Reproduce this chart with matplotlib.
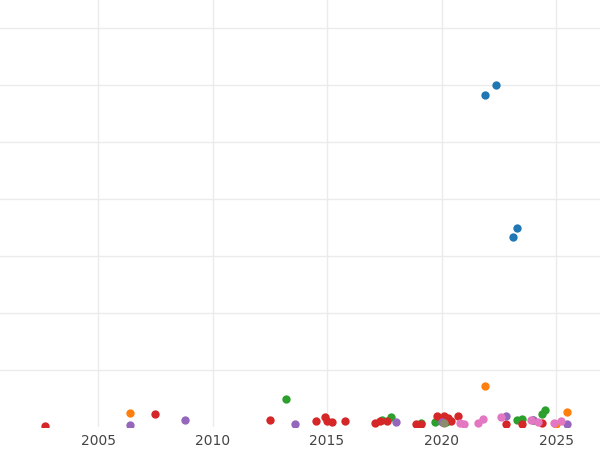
import matplotlib
matplotlib.use("Agg")
import matplotlib.pyplot as plt

blue_x = [2021.9, 2022.4, 2023.3, 2023.1]
blue_y = [5.82, 6.0, 3.49, 3.33]
orange_x = [2006.4, 2021.9, 2025.5, 2025.0]
orange_y = [0.25, 0.72, 0.26, 0.05]
green_x = [2013.2, 2017.4, 2017.8, 2019.1, 2019.7, 2020.2, 2023.3, 2023.5, 2024.4, 2024.5, 2024.0]
green_y = [0.49, 0.12, 0.18, 0.07, 0.09, 0.09, 0.12, 0.14, 0.23, 0.30, 0.12]
red_x = [2002.7, 2007.5, 2012.5, 2014.5, 2014.9, 2015.0, 2015.2, 2015.8, 2017.1, 2017.3, 2017.6,
         2018.9, 2019.1, 2019.8, 2020.1, 2020.3, 2020.4, 2020.7, 2022.8, 2023.5, 2024.4]
red_y = [0.02, 0.23, 0.12, 0.11, 0.18, 0.11, 0.09, 0.11, 0.07, 0.11, 0.11,
         0.05, 0.05, 0.19, 0.19, 0.16, 0.11, 0.19, 0.05, 0.05, 0.07]
purple_x = [2006.4, 2008.8, 2013.6, 2018.0, 2020.0, 2022.8, 2024.0, 2025.5]
purple_y = [0.04, 0.12, 0.05, 0.09, 0.09, 0.19, 0.12, 0.05]
pink_x = [2020.8, 2021.0, 2021.6, 2021.8, 2022.6, 2023.9, 2024.2, 2024.9, 2025.2]
pink_y = [0.07, 0.05, 0.07, 0.14, 0.18, 0.12, 0.09, 0.07, 0.11]
gray_x = [2020.1]
gray_y = [0.07]

years = [2005, 2010, 2015, 2020, 2025]

fig = plt.figure(figsize=(6, 4.5), dpi=100)
ax = fig.add_axes([0, 23/450, 1, 427/450])
series = [(blue_x, blue_y, "#1f77b4"), (orange_x, orange_y, "#ff7f0e"),
          (green_x, green_y, "#2ca02c"), (red_x, red_y, "#d62728"),
          (purple_x, purple_y, "#9467bd"), (pink_x, pink_y, "#e377c2"),
          (gray_x, gray_y, "#8c8c6c")]
for x, y, c in series:
    ax.scatter(x, y, s=36, color=c, zorder=3, linewidths=0)
ax.set_xlim(2000.72, 2026.92)
ax.set_ylim(0, 427/57)
ax.set_xticks(years)
ax.set_yticks([1, 2, 3, 4, 5, 6, 7])
ax.set_yticklabels([])
ax.tick_params(axis="y", length=0)
ax.tick_params(axis="x", length=0, labelsize=10, labelcolor="#444444", pad=5)
ax.grid(True, color="#ebebeb", linewidth=1)
for s in ax.spines.values():
    s.set_visible(False)
fig.savefig("out.png", dpi=100)
